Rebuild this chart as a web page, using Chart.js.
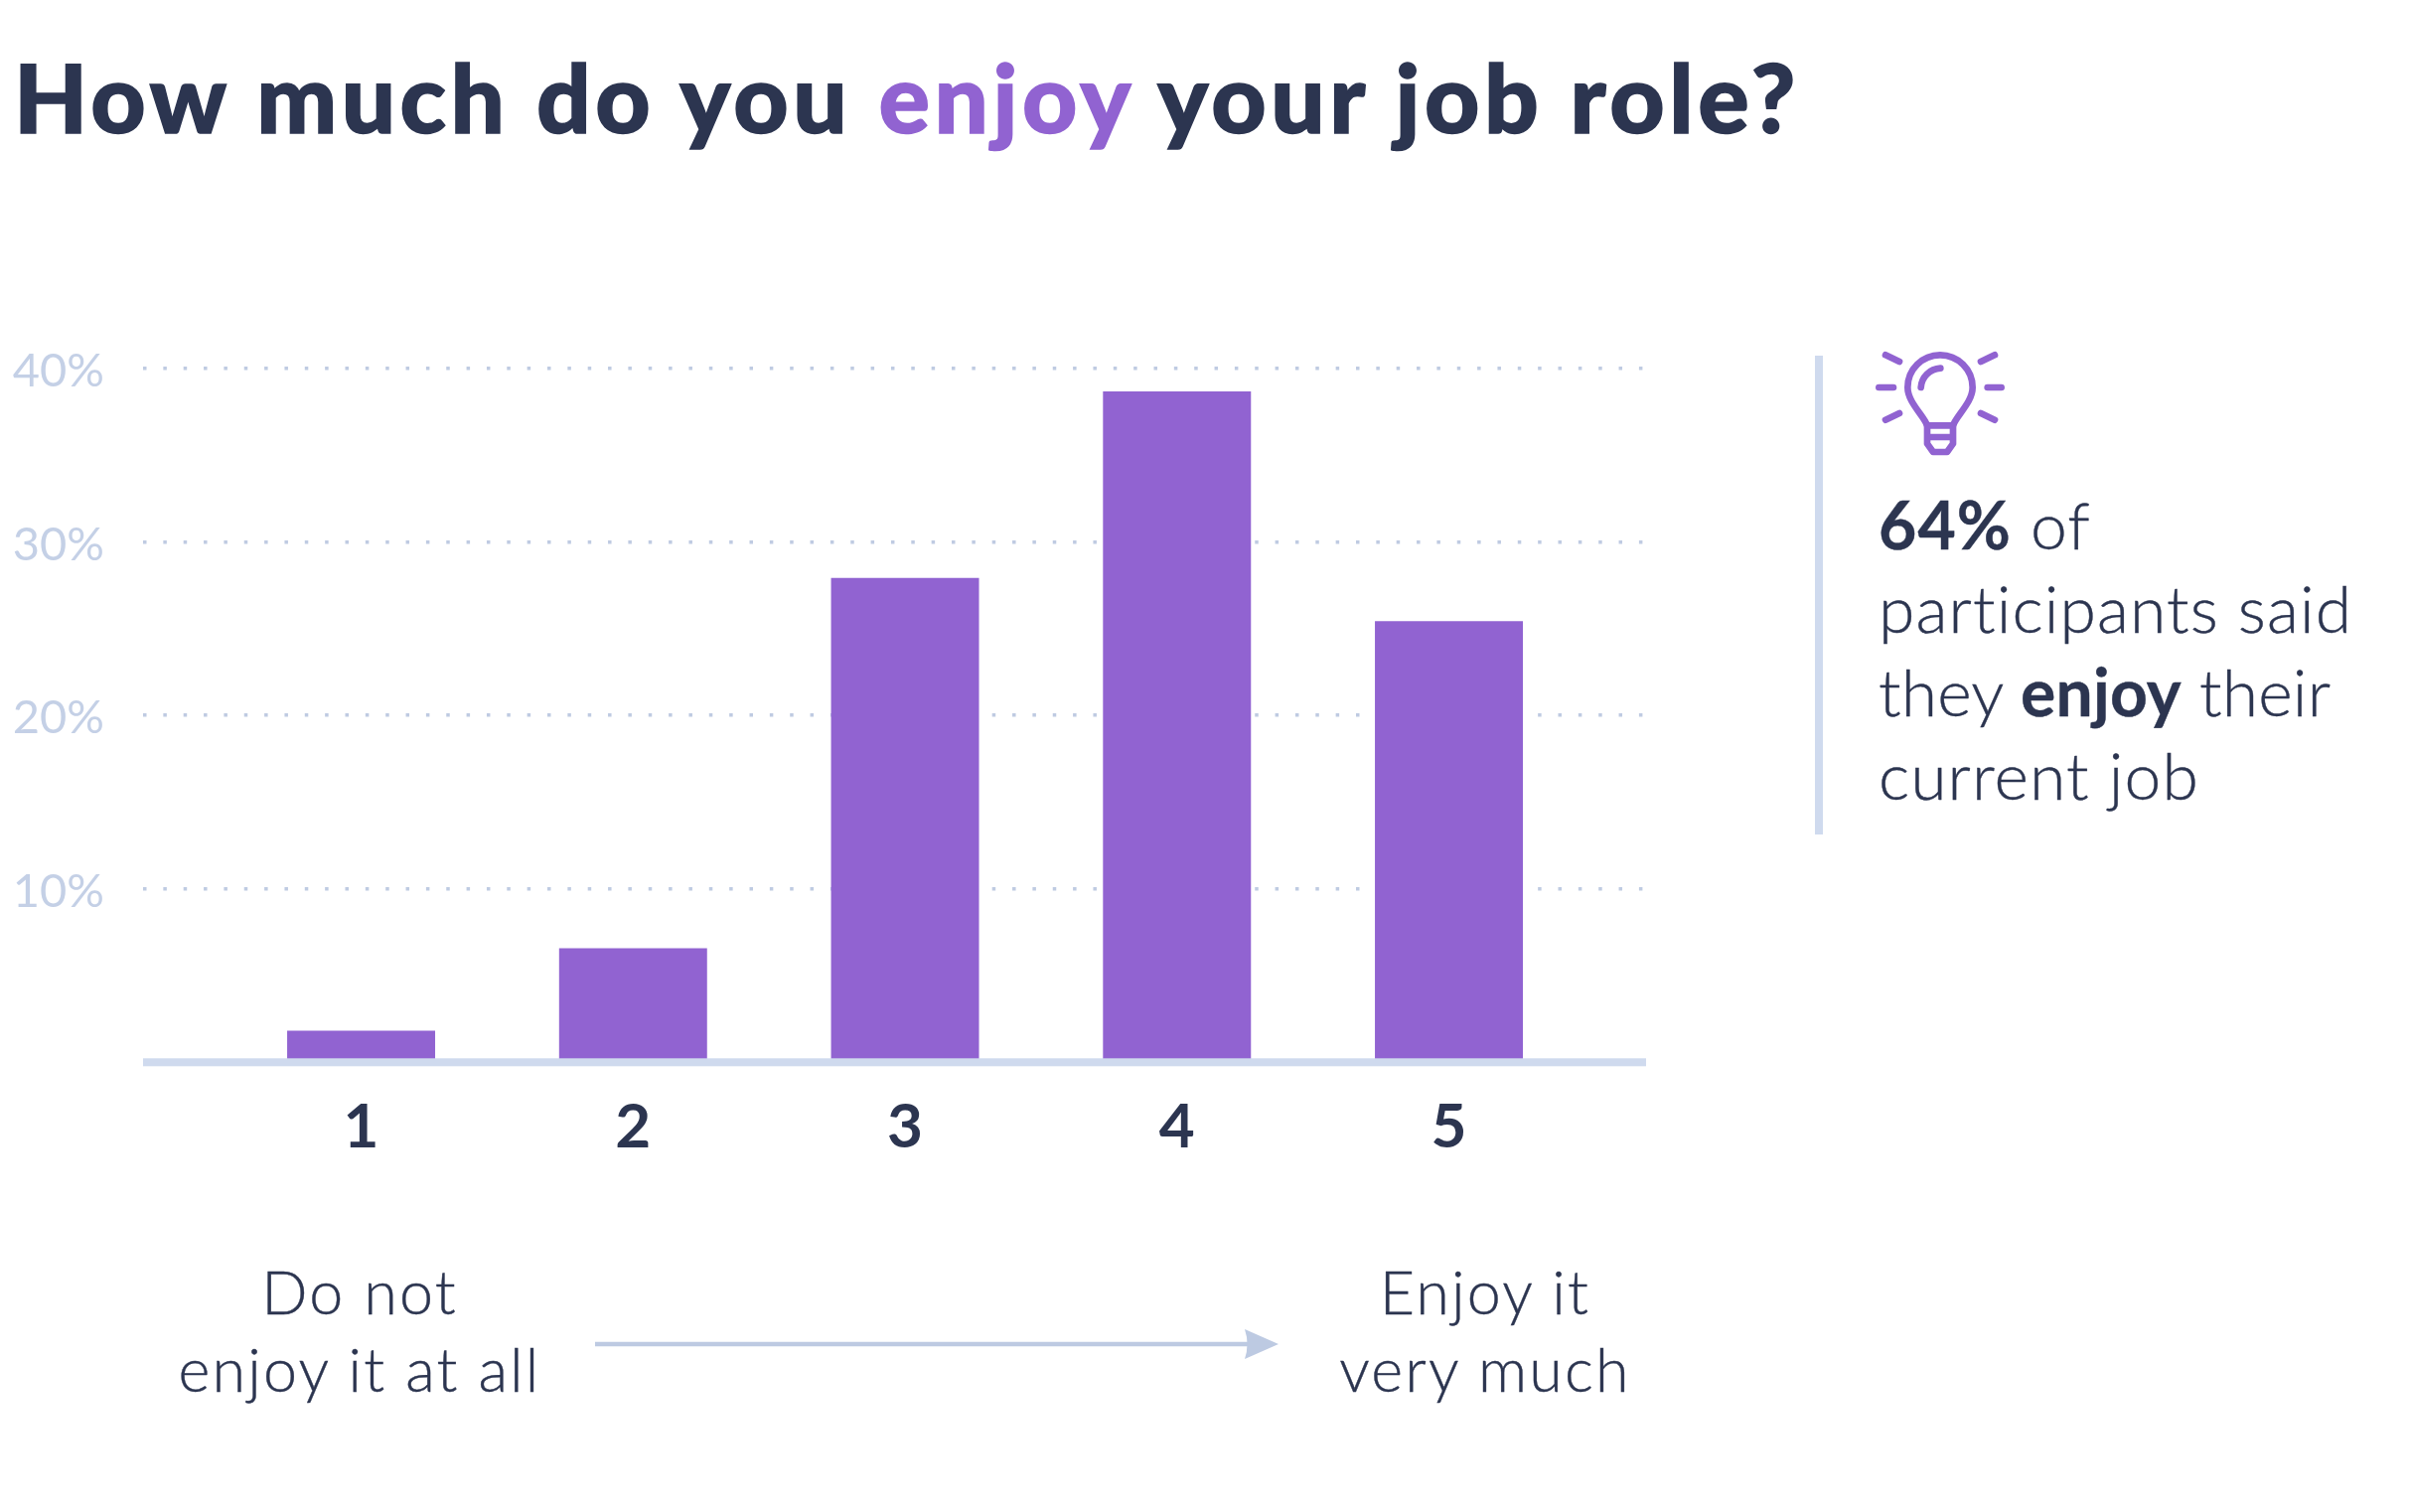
<!DOCTYPE html>
<html>
<head>
<meta charset="utf-8">
<title>How much do you enjoy your job role?</title>
<script src="https://cdn.jsdelivr.net/npm/chart.js@4"></script>
<style>
  body { margin: 0; background: #fff; font-family: Lato, sans-serif; color: #2c3550; font-variant-ligatures: none; }
  #page { position: relative; width: 2425px; height: 1522px; overflow: hidden; }
  #chart { position: absolute; left: 0; top: 0; }
  h1 { position: absolute; left: 14px; top: 47px; margin: 0; font-size: 96px; line-height: 100px; font-weight: 900; letter-spacing: 4.55px; -webkit-text-stroke: 1.5px currentColor; white-space: nowrap; }
  h1 span { color: #9163d1; }
  .scale-label { position: absolute; width: 500px; text-align: center; font-size: 61px; line-height: 78px; font-weight: 300; letter-spacing: 2.2px; -webkit-text-stroke: 0.4px currentColor; }
  #note { position: absolute; left: 1891px; top: 486px; font-size: 66px; line-height: 84px; font-weight: 300; letter-spacing: 1.1px; -webkit-text-stroke: 0.4px currentColor; white-space: nowrap; }
  #note b { font-weight: 700; }
  #note .tight { letter-spacing: 0.2px; }
  #note-bar { position: absolute; left: 1827px; top: 358px; width: 8px; height: 482px; background: #cfdaee; }
  svg { position: absolute; }
</style>
</head>
<body>
<div id="page">
  <canvas id="chart" width="2425" height="1522"></canvas>
  <h1>How much do you <span>enjoy</span> your job role?</h1>
  <div class="scale-label" style="left:112px;top:1261px">Do not<br>enjoy it at all</div>
  <div class="scale-label" style="left:1245px;top:1261px">Enjoy it<br>very much</div>
  <svg style="left:590px;top:1330px" width="710" height="46" viewBox="0 0 710 46">
    <path d="M9 20.7H668V25.3H9Z" fill="#bdcae2"/>
    <path d="M663 8L697 23L663 38Q668 23 663 8Z" fill="#bdcae2"/>
  </svg>
  <div id="note-bar"></div>
  <svg style="left:1810px;top:340px" width="400" height="260" viewBox="0 0 1200 780" fill="none" stroke="#9163d1" stroke-width="20" stroke-linecap="round" stroke-linejoin="round">
    <path d="M390 265C380 235 331 195 331 150A98 98 0 0 1 527 150C527 195 478 235 468 265Z"/>
    <path d="M390 265V320L408 345H450L468 320V265M390 300H468"/>
    <path d="M371 150C373 118 398 94 430 92"/>
    <path d="M244 150H288M572 150H614M264 52L306 72M594 52L552 72M264 248L306 228M594 248L552 228"/>
  </svg>
  <div id="note"><b>64%</b> of<br>participants said<br><span class="tight">they <b>enjoy</b> their</span><br>current job</div>
</div>
<script>
const categories = [1, 2, 3, 4, 5];
const shares = [1.8, 6.55, 27.9, 38.65, 25.4];
const yTicks = [10, 20, 30, 40];
const yTickLabels = ['10%', '20%', '30%', '40%'];

// Baseline sits on top of the bars, so it is drawn after the datasets
const baseline = {
  id: 'baseline',
  afterDatasetsDraw(chart) {
    const { ctx, chartArea, scales } = chart;
    const y = scales.y.getPixelForValue(0);
    ctx.save();
    ctx.fillStyle = '#cfdaee';
    ctx.fillRect(chartArea.left, y - 4, chartArea.right - chartArea.left, 8);
    ctx.restore();
  }
};

new Chart(document.getElementById('chart'), {
  type: 'bar',
  data: {
    datasets: [{
      data: categories.map((c, i) => ({ x: c, y: shares[i] })),
      backgroundColor: '#9163d1',
      barThickness: 148.3
    }]
  },
  options: {
    responsive: false,
    animation: false,
    layout: { padding: { top: 370.7, right: 768, bottom: 252.7, left: 0 } },
    plugins: { legend: { display: false }, tooltip: { enabled: false } },
    scales: {
      x: {
        type: 'linear',
        offset: false,
        min: 0.198,
        max: 5.725,
        afterBuildTicks: scale => { scale.ticks = categories.map(v => ({ value: v })); },
        afterFit: scale => { scale.height = 200; },
        grid: { display: false },
        border: { display: false },
        ticks: {
          callback: v => String(v),
          autoSkip: false,
          maxRotation: 0,
          color: '#2c3550',
          padding: 20.5,
          font: { family: 'Lato', size: 62, weight: 700 }
        }
      },
      y: {
        min: 0,
        max: 40,
        afterBuildTicks: scale => { scale.ticks = yTicks.map(v => ({ value: v })); },
        afterFit: scale => { scale.width = 144; },
        grid: { color: '#bfcbe2', lineWidth: 3.5, drawTicks: false },
        border: { display: false, dash: [3.5, 16.85] },
        ticks: {
          callback: v => yTickLabels[yTicks.indexOf(v)],
          color: '#c4d0e6',
          crossAlign: 'center',
          padding: 39,
          labelOffset: 3,
          font: { family: 'Lato', size: 47, weight: 400 }
        }
      }
    }
  },
  plugins: [baseline]
});
</script>
</body>
</html>
